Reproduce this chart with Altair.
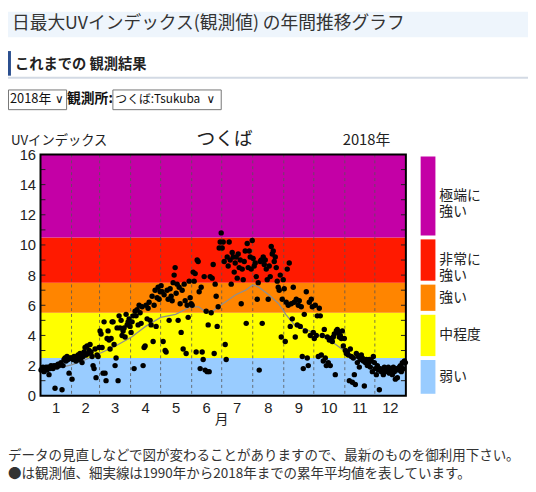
import altair as alt
import pandas as pd

JP = "Noto Sans CJK JP"
NUM = "Liberation Sans"

# ---------------- data ----------------
band_lo = [0, 2.5, 5.5, 7.5, 10.5]
band_hi = [2.5, 5.5, 7.5, 10.5, 16]
band_names = ["弱い", "中程度", "強い", "非常に\n強い", "極端に\n強い"]
band_colors = ["#99CCFF", "#FFFF00", "#FF8500", "#FF1A00", "#C400A6"]

month_names = ["1", "2", "3", "4", "5", "6", "7", "8", "9", "10", "11", "12"]
month_days = [31, 28, 31, 30, 31, 30, 31, 31, 30, 31, 30, 31]
y_labels = [0, 2, 4, 6, 8, 10, 12, 14, 16]
y_minor = list(range(1, 16))

uv_jan = [1.7, 1.8, 1.9, 1.6, 1.8, 1.9, 1.7, 1.9, 1.4, 1.8, 2.0, 1.9, 1.8, 2.0, 0.5, 2.0, 1.9, 2.1, 2.0, 2.1,
          2.2, 0.4, 2.0, 2.4, 2.5, 2.3, 2.6, 2.4, 1.5, 2.5, 2.5]
uv_feb = [1.1, 2.4, 2.6, 2.5, 2.3, 2.6, 2.7, 2.4, 2.8, 2.5, 2.2, 2.6, 2.9, 3.2, 2.7, 3.3, 2.8, 3.0, 3.4, 2.9,
          2.6, 2.0, 1.8, 3.1, 1.2, 2.7, 2.6, 3.2]
uv_mar = [4.3, 4.1, 3.2, 1.5, 4.9, 1.5, 1.0, 3.8, 4.3, 3.7, 3.1, 3.8, 4.9, 4.9, 3.4, 2.0, 2.5, 4.5, 1.0, 5.3,
          4.5, 5.0, 4.0, 4.3, 4.5, 3.9, 5.4, 4.7, 4.9, 5.1, 4.6]
uv_apr = [4.2, 4.9, 5.3, 1.8, 5.6, 5.3, 5.7, 4.7, 6.0, 5.5, 4.8, 5.9, 2.0, 3.2, 3.3, 6.0, 5.1, 5.8, 6.2, 5.0,
          4.7, 6.6, 3.6, 6.0, 7.0, 4.6, 6.5, 7.2, 6.4, 6.9]
uv_may = [7.3, 6.9, 3.6, 6.7, 3.0, 2.9, 7.0, 6.4, 5.0, 7.1, 6.6, 6.3, 7.5, 8.0, 8.5, 6.8, 7.4, 5.0, 7.2, 6.1,
          4.2, 7.0, 3.1, 7.4, 6.3, 2.8, 6.0, 5.2, 7.6, 6.5, 6.1]
uv_jun = [6.0, 8.2, 7.6, 8.1, 2.9, 9.0, 8.9, 6.9, 1.8, 7.2, 2.9, 2.4, 7.9, 1.7, 5.6, 1.6, 4.7, 1.6, 7.9, 5.5,
          7.8, 8.7, 2.8, 7.4, 6.6, 4.6, 5.9, 9.8, 10.2, 10.8]
uv_jul = [9.8, 10.2, 8.9, 3.4, 2.4, 9.2, 8.6, 10.2, 9.0, 7.4, 9.5, 9.2, 8.2, 8.8, 9.2, 7.8, 9.4, 8.5, 9.0, 6.1,
          8.4, 7.7, 8.9, 9.6, 4.8, 10.1, 8.5, 9.6, 9.2, 8.4, 10.3]
uv_aug = [9.1, 8.6, 8.8, 7.9, 6.4, 7.5, 1.7, 8.9, 9.0, 4.8, 9.2, 8.7, 9.0, 8.4, 7.7, 6.4, 8.6, 7.9, 9.9, 9.4,
          9.6, 8.9, 9.2, 8.5, 7.6, 7.2, 7.0, 8.0, 3.9, 6.4, 7.7]
uv_sep = [7.1, 3.6, 6.2, 8.4, 6.0, 8.8, 4.6, 6.1, 5.1, 7.2, 6.2, 3.9, 6.4, 4.7, 6.0, 6.3, 4.6, 5.9, 2.6, 1.8,
          5.4, 4.3, 6.9, 2.5, 2.0, 6.2, 4.0, 6.4, 5.9, 4.2]
uv_oct = [3.8, 6.0, 4.0, 5.3, 2.6, 5.8, 5.3, 2.7, 4.0, 2.3, 4.4, 2.5, 2.0, 3.9, 2.2, 3.7, 2.0, 3.8, 3.6, 3.9,
          4.1, 1.4, 4.3, 4.4, 4.2, 3.9, 4.0, 3.8, 4.3, 3.3, 3.8]
uv_nov = [3.0, 2.8, 2.9, 2.7, 1.0, 3.1, 2.6, 0.9, 2.5, 1.4, 0.75, 2.8, 2.2, 2.6, 1.9, 2.4, 2.7, 2.5, 2.3, 0.65,
          2.2, 2.4, 2.0, 2.1, 2.4, 1.9, 2.3, 1.6, 2.6, 2.2]
uv_dec = [1.8, 1.4, 2.0, 1.7, 0.4, 1.8, 1.6, 1.7, 1.4, 1.9, 1.8, 1.6, 1.7, 1.9, 1.5, 1.8, 1.7, 1.4, 1.9, 1.6,
          1.1, 1.8, 1.2, 1.7, 1.9, 2.0, 1.6, 2.2, 1.8, 2.3, 2.2]

avg_day = [1, 15, 31, 45, 59, 75, 91, 105, 120, 135, 150, 158, 166, 172, 180, 195, 205, 212, 218,
           228, 238, 245, 255, 265, 275, 285, 295, 305, 315, 325, 335, 345, 365]
avg_uv = [1.6, 1.8, 2.05, 2.4, 2.8, 3.3, 3.9, 4.6, 5.2, 5.4, 5.9, 5.9, 5.5, 5.6, 6.0, 6.7, 7.0, 7.35, 7.2,
          6.7, 6.1, 5.4, 4.6, 4.4, 4.1, 3.8, 3.4, 2.9, 2.5, 2.1, 1.8, 1.6, 1.6]

# ---------------- tables ----------------
month_start = [0]
for n in month_days[:-1]:
    month_start.append(month_start[-1] + n)
monthly = [uv_jan, uv_feb, uv_mar, uv_apr, uv_may, uv_jun, uv_jul, uv_aug, uv_sep, uv_oct, uv_nov, uv_dec]
days, uvs = [], []
for s, vals in zip(month_start, monthly):
    for i, v in enumerate(vals):
        days.append(s + i + 1)
        uvs.append(v)
obs = pd.DataFrame({"day": days, "uv": uvs})
avg = pd.DataFrame({"day": avg_day, "uv": avg_uv})
bands = pd.DataFrame({"lo": band_lo, "hi": band_hi, "name": band_names, "color": band_colors})
bands["mid"] = (bands["lo"] + bands["hi"]) / 2
bounds = pd.DataFrame({"b": month_start[1:]})
mids = pd.DataFrame({"mid": [s + n / 2 for s, n in zip(month_start, month_days)], "m": month_names})
minor = pd.DataFrame({"t": y_minor})

# ---------------- layout ----------------
W, H = 371, 245
OX, OY = 41, 153  # page position of plot origin
xs = alt.Scale(domain=[0, 365], nice=False, zero=False)
ys = alt.Scale(domain=[0, 16], nice=False)
yax = alt.Axis(values=y_labels, title=None, ticks=False, domain=False, grid=False,
               labelPadding=5, labelFont=NUM, labelFontSize=15, labelColor="#222")


def X(f):
    return alt.X(f, type="quantitative", scale=xs, axis=None)


def Y(f):
    return alt.Y(f, type="quantitative", scale=ys, axis=yax)


one = pd.DataFrame({"k": [0]})


def ptext(s, px, py, size, weight="normal", align="left", color="#333", font=JP):
    return alt.Chart(pd.DataFrame({"s": [s]})).mark_text(
        align=align, baseline="middle", font=font, fontSize=size, fontWeight=weight, color=color
    ).encode(x=alt.value(px - OX), y=alt.value(py - OY), text="s:N")


def prect(x1, y1, x2, y2, fill, stroke=None, sw=1.0, opacity=1.0):
    kw = dict(fill=fill, fillOpacity=opacity)
    if stroke:
        kw.update(stroke=stroke, strokeWidth=sw)
    return alt.Chart(one).mark_rect(**kw).encode(
        x=alt.value(x1 - OX), x2=alt.value(x2 - OX), y=alt.value(y1 - OY), y2=alt.value(y2 - OY))


layers = []
# bands
layers.append(alt.Chart(bands).mark_rect().encode(
    x=alt.value(0), x2=alt.value(W), y=Y("lo"), y2="hi", color=alt.Color("color:N", scale=None)))
# month boundaries
layers.append(alt.Chart(bounds).mark_rule(color="#555", strokeWidth=0.8, strokeDash=[3, 3]).encode(
    x=X("b"), y=alt.value(0), y2=alt.value(H)))
# inner ticks
layers.append(alt.Chart(minor).mark_rule(color="#222", strokeWidth=1).encode(
    y=Y("t"), x=alt.value(0), x2=alt.value(5)))
layers.append(alt.Chart(minor).mark_rule(color="#222", strokeWidth=1).encode(
    y=Y("t"), x=alt.value(W - 5), x2=alt.value(W)))
# average line
layers.append(alt.Chart(avg).mark_line(color="#8f8f8f", strokeWidth=1.3).encode(x=X("day"), y=Y("uv")))
# observations
layers.append(alt.Chart(obs).transform_calculate(xp="datum.day - 0.5").mark_circle(
    color="#000", size=30, opacity=1).encode(x=X("xp"), y=Y("uv")))
# frame
layers.append(alt.Chart(one).mark_rect(fillOpacity=0, stroke="#000", strokeWidth=2).encode(
    x=alt.value(0), x2=alt.value(W), y=alt.value(0), y2=alt.value(H)))
# month labels
layers.append(alt.Chart(mids).mark_text(font=NUM, fontSize=15, color="#222", baseline="middle").encode(
    x=X("mid"), y=alt.value(411 - OY), text="m:N"))
layers.append(ptext("月", 225, 423, 14, align="center", color="#222"))
# chart header texts
layers.append(ptext("UVインデックス", 11, 139, 13.5, color="#222"))
layers.append(ptext("つくば", 228, 137, 19, align="center", color="#222"))
layers.append(ptext("2018年", 372, 138, 15, align="center", color="#222"))
# legend
layers.append(alt.Chart(bands).mark_rect(yOffset=-2, y2Offset=2).encode(
    x=alt.value(427 - OX), x2=alt.value(442 - OX), y=Y("lo"), y2="hi",
    color=alt.Color("color:N", scale=None)))
layers.append(alt.Chart(bands).mark_text(align="left", baseline="middle", font=JP, fontSize=14,
                                          color="#222", lineBreak="\n", lineHeight=16).encode(
    x=alt.value(446 - OX), y=Y("mid"), text="name:N"))
# page header
layers.append(prect(8, 8, 536, 34, "#EEF5FC"))
layers.append(ptext("日最大UVインデックス(観測値) の年間推移グラフ", 12, 21, 18, color="#333"))
layers.append(prect(8, 48, 11, 73, "#2B4F8F"))
layers.append(ptext("これまでの 観測結果", 15, 62, 14.5, weight="bold", color="#222"))
layers.append(prect(8, 74, 536, 76, "#D3DAE4"))
# select boxes
layers.append(prect(8.5, 87.5, 67.5, 107.5, "#FFFFFF", stroke="#767676"))
layers.append(ptext("2018年", 10, 97, 13, color="#111"))
layers.append(ptext("∨", 60, 97, 12, align="center", color="#111", font="DejaVu Sans"))
layers.append(ptext("観測所:", 68, 97, 14, weight="bold", color="#111"))
layers.append(prect(114.5, 87.5, 224.5, 107.5, "#FFFFFF", stroke="#767676"))
layers.append(ptext("つくば:Tsukuba", 117, 97, 12, color="#111"))
layers.append(ptext("∨", 214, 97, 12, align="center", color="#111", font="DejaVu Sans"))
# footnotes
layers.append(ptext("データの見直しなどで図が変わることがありますので、最新のものを御利用下さい。", 8, 459, 13.7, color="#333"))
layers.append(ptext("●は観測値、細実線は1990年から2018年までの累年平均値を表しています。", 8, 477, 13.7, color="#333"))

chart = alt.layer(*layers).properties(
    width=W, height=H,
    padding={"left": OX - 8, "top": OY - 8, "right": 528 - (OX - 8) - W, "bottom": 484 - (OY - 8) - H},
    autosize=alt.AutoSizeParams(type="none"),
).configure_view(stroke=None)

chart.save("out.html", embed_options={"renderer": "svg", "actions": False})
